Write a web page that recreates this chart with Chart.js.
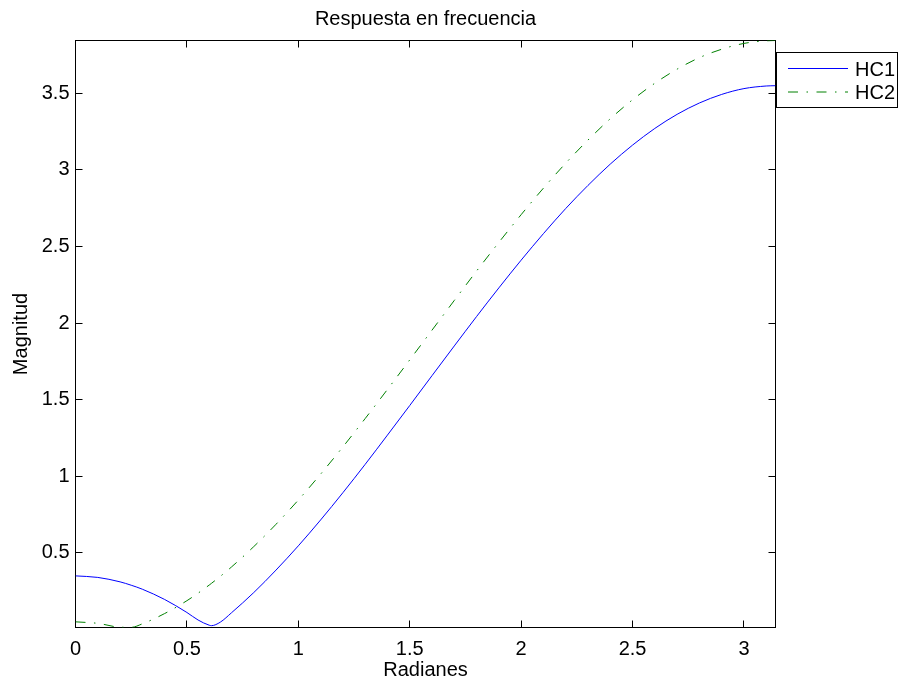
<!DOCTYPE html>
<html><head><meta charset="utf-8">
<script src="https://cdn.jsdelivr.net/npm/chart.js@4"></script>
<style>html,body{margin:0;padding:0;background:#fff;}canvas{display:block;}</style>
</head><body>
<canvas id="c" width="901" height="686"></canvas>
<script>
const chartTitle = 'Respuesta en frecuencia';
const xLabel = 'Radianes';
const yLabel = 'Magnitud';
const seriesNames = ['HC1', 'HC2'];
const radians = [0, 0.1, 0.2, 0.25, 0.3, 0.4, 0.5, 0.55, 0.6, 0.61, 0.65, 0.7, 0.8, 0.9, 1.0,
  1.1, 1.2, 1.3, 1.4, 1.5, 1.6, 1.7, 1.8, 1.9, 2.0, 2.1, 2.2, 2.3, 2.4, 2.5, 2.6, 2.7, 2.8, 2.9, 3.0, 3.1, 3.1416];
const hc1 = [0.350, 0.340, 0.311, 0.289, 0.263, 0.196, 0.111, 0.062, 0.028, 0.025, 0.048, 0.109, 0.241, 0.388, 0.546,
  0.715, 0.893, 1.078, 1.269, 1.462, 1.657, 1.851, 2.043, 2.230, 2.411, 2.584, 2.748, 2.899, 3.038, 3.162, 3.271, 3.363, 3.437, 3.493, 3.531, 3.548, 3.550];
const hc2 = [0.050, 0.040, 0.015, 0.014, 0.037, 0.104, 0.188, 0.237, 0.290, 0.301, 0.347, 0.408, 0.541, 0.687, 0.845,
  1.014, 1.192, 1.377, 1.567, 1.760, 1.954, 2.148, 2.340, 2.527, 2.708, 2.881, 3.044, 3.195, 3.334, 3.458, 3.566, 3.658, 3.733, 3.788, 3.826, 3.843, 3.845];
const xTicks = [0, 0.5, 1, 1.5, 2, 2.5, 3];
const yTicks = [0.5, 1, 1.5, 2, 2.5, 3, 3.5];
const xRange = [0, 3.1416];
const yRange = [0.013, 3.845];

const FONT = '"Liberation Sans", Arial, Helvetica, sans-serif';
const colors = ['#0000ff', '#008000'];
const dashes = [[], [10, 8.5, 1.5, 8.5]];

const framePlugin = {
  id: 'frame',
  beforeDatasetsDraw(chart) {
    const {ctx, chartArea: a, scales: {x, y}} = chart;
    ctx.save();
    ctx.strokeStyle = '#000';
    ctx.lineWidth = 1;
    ctx.strokeRect(a.left, a.top, a.right - a.left, a.bottom - a.top);
    ctx.beginPath();
    const L = 7;
    x.ticks.forEach(t => {
      const p = Math.round(x.getPixelForValue(t.value) - 0.5) + 0.5;
      ctx.moveTo(p, a.bottom); ctx.lineTo(p, a.bottom - L);
      ctx.moveTo(p, a.top); ctx.lineTo(p, a.top + L);
    });
    y.ticks.forEach(t => {
      const p = Math.round(y.getPixelForValue(t.value) - 0.5) + 0.5;
      ctx.moveTo(a.left, p); ctx.lineTo(a.left + L, p);
      ctx.moveTo(a.right, p); ctx.lineTo(a.right - L, p);
    });
    ctx.stroke();
    // title centred over the axes box
    ctx.fillStyle = '#000';
    ctx.font = '20px ' + FONT;
    ctx.textAlign = 'center';
    ctx.textBaseline = 'alphabetic';
    ctx.fillText(chartTitle, (a.left + a.right) / 2, a.top - 15.5);
    ctx.restore();
  }
};

const legendPlugin = {
  id: 'boxLegend',
  afterDraw(chart) {
    const {ctx, chartArea: a} = chart;
    const bx = a.right + 1, by = a.top + 12, bw = 121, bh = 55;
    ctx.save();
    ctx.fillStyle = '#fff';
    ctx.fillRect(bx, by, bw, bh);
    ctx.strokeStyle = '#000';
    ctx.lineWidth = 1;
    ctx.strokeRect(bx, by, bw, bh);
    ctx.font = '20px ' + FONT;
    ctx.textBaseline = 'alphabetic';
    ctx.textAlign = 'left';
    chart.data.datasets.forEach((ds, i) => {
      const ly = by + 16 + i * 23.5;
      ctx.beginPath();
      ctx.strokeStyle = ds.borderColor;
      ctx.setLineDash(ds.borderDash || []);
      ctx.moveTo(bx + 11.5, ly); ctx.lineTo(bx + 71.5, ly);
      ctx.stroke();
      ctx.setLineDash([]);
      ctx.fillStyle = '#000';
      ctx.fillText(ds.label, bx + 78.5, ly + 7);
    });
    ctx.restore();
  }
};

const seriesData = [hc1, hc2];
new Chart(document.getElementById('c'), {
  type: 'line',
  data: {
    datasets: seriesNames.map((name, i) => ({
      label: name,
      data: radians.map((x, j) => ({x: x, y: seriesData[i][j]})),
      borderColor: colors[i],
      borderDash: dashes[i],
      borderWidth: 1,
      pointRadius: 0,
      fill: false,
      cubicInterpolationMode: 'monotone'
    }))
  },
  options: {
    responsive: false,
    animation: false,
    devicePixelRatio: 1,
    layout: {padding: {left: 0, right: 125.5, top: 40.5, bottom: 0}},
    plugins: {
      legend: {display: false},
      tooltip: {enabled: false},
      title: {display: false}
    },
    scales: {
      x: {
        type: 'linear', min: xRange[0], max: xRange[1],
        afterBuildTicks: s => { s.ticks = xTicks.map(v => ({value: v})); },
        afterFit: s => { s.height = 58.5; },
        grid: {display: false, drawTicks: false},
        border: {display: false},
        ticks: {color: '#000', font: {family: FONT, size: 20}, padding: 10, maxRotation: 0, autoSkip: false,
          callback: v => String(v)},
        title: {display: true, text: xLabel, color: '#000', font: {family: FONT, size: 20}, padding: {top: 0, bottom: 4}}
      },
      y: {
        type: 'linear', min: yRange[0], max: yRange[1],
        afterBuildTicks: s => { s.ticks = yTicks.map(v => ({value: v})); },
        afterFit: s => { s.width = 75.5; },
        grid: {display: false, drawTicks: false},
        border: {display: false},
        ticks: {color: '#000', font: {family: FONT, size: 20}, padding: 6, autoSkip: false,
          callback: v => String(v)},
        title: {display: true, text: yLabel, color: '#000', font: {family: FONT, size: 20}, padding: {top: 9.5, bottom: 0}}
      }
    }
  },
  plugins: [framePlugin, legendPlugin]
});
</script>
</body></html>
